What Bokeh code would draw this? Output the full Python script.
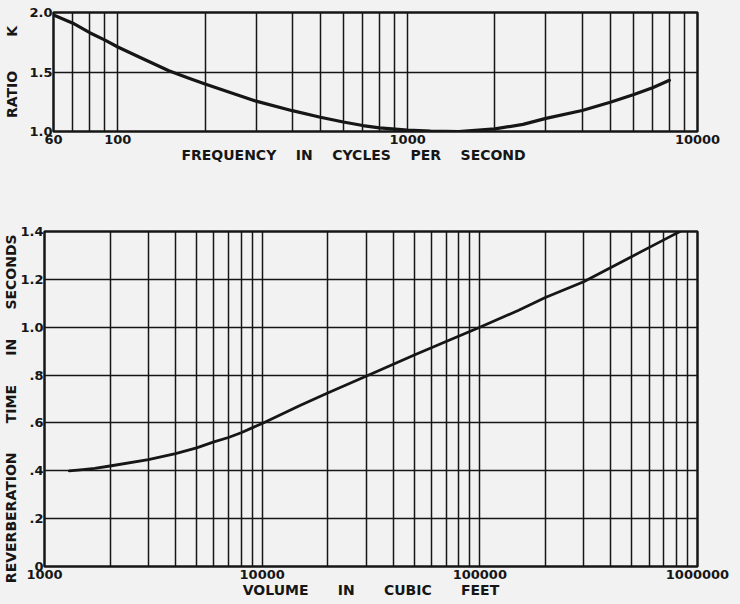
from bokeh.plotting import figure
from bokeh.models import FixedTicker, CustomJSTickFormatter, Range1d
from bokeh.embed import file_html
from bokeh.resources import INLINE

# ---- data ----
freq = [60, 70, 80, 90, 100, 120, 150, 175, 200, 250, 300, 400, 500, 600, 700, 800, 1000, 1200, 1500,
        2000, 2500, 3000, 4000, 5000, 6000, 7000, 8000]
ratio_k = [1.98, 1.91, 1.83, 1.77, 1.71, 1.62, 1.51, 1.45, 1.40, 1.32, 1.255, 1.175, 1.12, 1.08, 1.05,
           1.03, 1.012, 1.003, 1.0, 1.022, 1.06, 1.11, 1.176, 1.246, 1.308, 1.367, 1.43]

volume = [1300, 1500, 1700, 2000, 3000, 4000, 5000, 6000, 7000, 8000, 10000, 15000, 20000, 30000,
          50000, 70000, 100000, 150000, 200000, 300000, 500000, 700000, 830000]
reverb = [0.40, 0.405, 0.41, 0.42, 0.447, 0.472, 0.496, 0.521, 0.539, 0.559, 0.598, 0.674, 0.725, 0.795,
          0.884, 0.94, 1.0, 1.07, 1.124, 1.19, 1.296, 1.365, 1.40]

top_x_ticks = [60, 100, 1000, 10000]
top_y_ticks = [1.0, 1.5, 2.0]
bot_x_ticks = [1000, 10000, 100000, 1000000]
bot_y_ticks = [0, 0.2, 0.4, 0.6, 0.8, 1.0, 1.2, 1.4]

NB = "\u00a0"
top_xlabel = (NB * 4).join(["FREQUENCY", "IN", "CYCLES", "PER", "SECOND"]) + NB * 9
top_ylabel = (NB * 7).join(["RATIO", "K"])
bot_xlabel = (NB * 6).join(["VOLUME", "IN", "CUBIC", "FEET"])
bot_ylabel = (NB * 6).join(["REVERBERATION", "TIME", "IN", "SECONDS"]) + NB * 4

top_grid_x = [m * 10 ** e for e in (1, 2, 3) for m in range(1, 10) if 60 <= m * 10 ** e < 10000]
bot_grid_x = [m * 10 ** e for e in (3, 4, 5) for m in range(1, 10)]

BG = "#f2f2f2"
INK = "#161616"
FONT = "DejaVu Sans"

int_fmt = CustomJSTickFormatter(code="return Math.round(tick).toString();")
one_dec_fmt = CustomJSTickFormatter(code="return tick.toFixed(1);")
frac_fmt = CustomJSTickFormatter(code="""
const s = tick.toFixed(1);
if (Math.abs(tick) < 1e-9) return '0';
return tick < 1 ? s.substring(1) : s;
""")


def style(p, xticks, yticks, xgrid, ygrid, xfmt, yfmt):
    p.background_fill_color = BG
    p.border_fill_color = BG
    p.outline_line_color = INK
    p.outline_line_width = 2.5
    p.xaxis.ticker = FixedTicker(ticks=xticks, minor_ticks=[])
    p.yaxis.ticker = FixedTicker(ticks=yticks, minor_ticks=[])
    p.xaxis.formatter = xfmt
    p.yaxis.formatter = yfmt
    for ax in (p.xaxis[0], p.yaxis[0]):
        ax.axis_line_color = None
        ax.major_tick_line_color = None
        ax.minor_tick_line_color = None
        ax.major_tick_in = 0
        ax.major_tick_out = 0
        ax.major_label_text_font = FONT
        ax.major_label_text_font_size = "13px"
        ax.major_label_text_font_style = "bold"
        ax.major_label_text_color = INK
        ax.axis_label_text_font = FONT
        ax.axis_label_text_font_size = "14px"
        ax.axis_label_text_font_style = "bold"
        ax.axis_label_text_color = INK
    p.xgrid.ticker = FixedTicker(ticks=xgrid, minor_ticks=[])
    p.ygrid.ticker = FixedTicker(ticks=ygrid, minor_ticks=[])
    for g in (p.xgrid[0], p.ygrid[0]):
        g.grid_line_color = INK
        g.grid_line_width = 1.5
        g.grid_line_alpha = 1.0


# ---- top panel ----
top = figure(width=740, height=180, x_axis_type="log",
             x_range=Range1d(60, 10000), y_range=Range1d(1.0, 2.0),
             output_backend="svg", toolbar_location=None,
             min_border_left=53, min_border_right=43, min_border_top=12, min_border_bottom=49)
style(top, top_x_ticks, top_y_ticks, top_grid_x, [1.5], int_fmt, one_dec_fmt)
top.xaxis.axis_label = top_xlabel
top.yaxis.axis_label = top_ylabel
top.xaxis.major_label_standoff = 3
top.xaxis.axis_label_standoff = 0
top.yaxis.major_label_standoff = 1
top.yaxis.axis_label_standoff = 6
top.line(freq, ratio_k, line_width=3.2, line_color=INK, line_join="round", line_cap="round")

# ---- bottom panel ----
bot = figure(width=740, height=424, x_axis_type="log",
             x_range=Range1d(1000, 1000000), y_range=Range1d(0, 1.4),
             output_backend="svg", toolbar_location=None,
             min_border_left=44, min_border_right=43, min_border_top=51, min_border_bottom=38)
style(bot, bot_x_ticks, bot_y_ticks, bot_grid_x, bot_y_ticks[1:-1], int_fmt, frac_fmt)
bot.xaxis.axis_label = bot_xlabel
bot.yaxis.axis_label = bot_ylabel
bot.xaxis.major_label_standoff = 3
bot.xaxis.axis_label_standoff = 0
bot.yaxis.major_label_standoff = 1
bot.yaxis.axis_label_standoff = -2
bot.line(volume, reverb, line_width=2.8, line_color=INK, line_join="round", line_cap="round")

html = file_html([top, bot], INLINE)
html = html.replace("</head>", "<style>html, body { background-color: %s; }</style></head>" % BG, 1)
open("out.html", "w").write(html)
